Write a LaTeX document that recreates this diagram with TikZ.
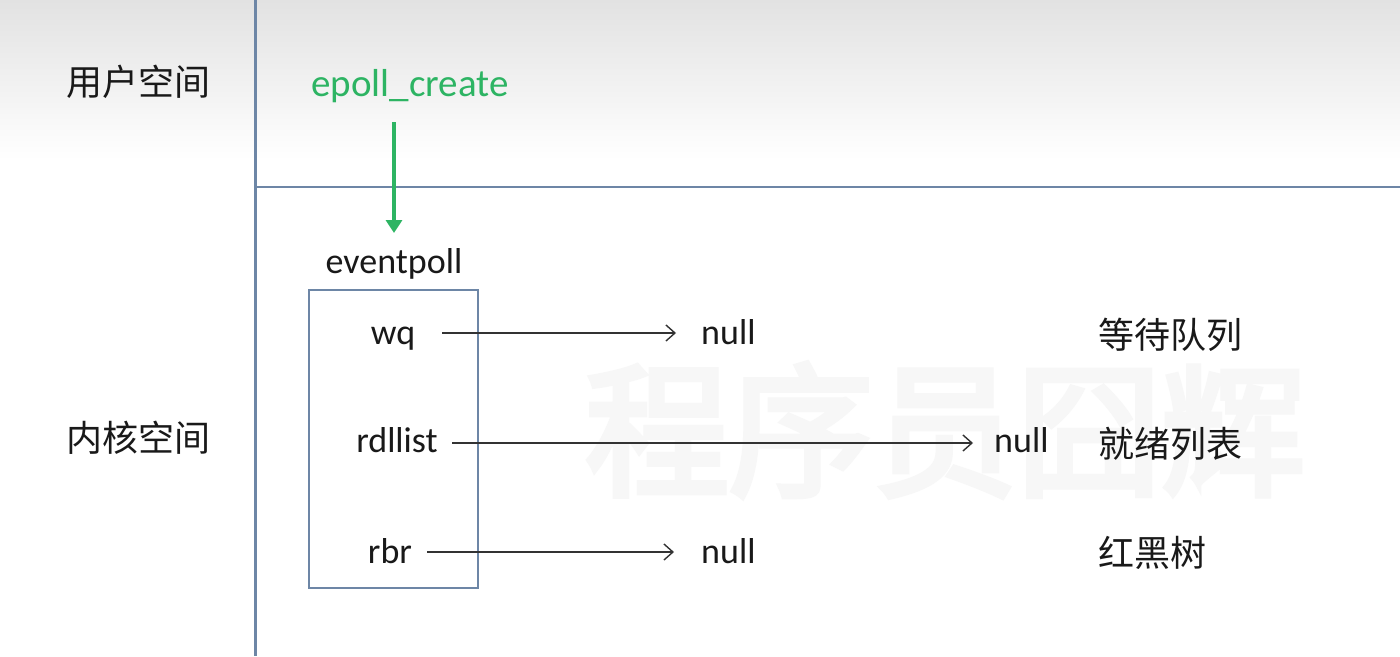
\documentclass[tikz,border=0pt]{standalone}
\usepackage{fontspec}
\setmainfont{Carlito}
\newfontfamily\cjk{Noto Sans CJK SC}
\newfontfamily\cjkbold[FakeBold=4]{Noto Sans CJK SC}
\usetikzlibrary{arrows.meta}
\definecolor{linecol}{HTML}{6D86A6}
\definecolor{greenc}{HTML}{2DB463}
\definecolor{wmark}{HTML}{F7F7F7}
\definecolor{topgray}{HTML}{E2E2E2}
\tikzset{
  lbl/.style={inner sep=0pt, font=\fontsize{36}{40}\selectfont, text=black!90},
  cn/.style={inner sep=0pt, font=\cjk\fontsize{36}{40}\selectfont, text=black!90},
  ptr/.style={draw=black!80, line width=1.4pt, -{Straight Barb[length=9pt,width=16pt,line width=1.4pt]}},
  sep/.style={draw=linecol, line width=3pt},
}
\begin{document}
\begin{tikzpicture}[x=1pt,y=-1pt]
\useasboundingbox (0,0) rectangle (1400,656);
\fill[white] (0,0) rectangle (1400,656);
\shade[top color=topgray, bottom color=white] (0,0) rectangle (1400,160);
% watermark
\node[inner sep=0pt, font=\cjkbold\fontsize{144}{150}\selectfont, text=wmark] (wm) at (945,430) {程序员囧辉};
% separators
\coordinate (vtop) at (255,0);
\coordinate (vbot) at (255,656);
\coordinate (hl) at (255,187);
\coordinate (hr) at (1400,187);
\draw[sep] (vtop) -- (vbot);
\draw[sep, line width=2.5pt] (hl) -- (hr);
% region labels
\node[cn] (user) at (138,82) {用户空间};
\node[cn] (kernel) at (138,438) {内核空间};
% epoll_create
\node[lbl, text=greenc, anchor=base, font=\fontsize{39}{44}\selectfont] (create) at (410,96) {epoll\_create};
\node[lbl, anchor=base] (ep) at (394,273) {eventpoll};
\coordinate (ctop) at (394,122);
\coordinate (cbot) at (394,233);
\draw[draw=greenc, line width=3.5pt, -{Triangle[length=13pt,width=16pt]}] (ctop) -- (cbot);
% box
\node[draw=linecol, line width=1.5pt, minimum width=169pt, minimum height=298pt, inner sep=0pt] (box) at (393.5,439) {};
% fields
\node[lbl, anchor=base] (wq) at (393,344) {wq};
\node[lbl, anchor=base] (rd) at (397,452) {rdllist};
\node[lbl, anchor=base] (rb) at (390,563) {rbr};
\node[lbl, anchor=base west] (n1) at (701,344) {null};
\node[lbl, anchor=base west] (n2) at (994,452) {null};
\node[lbl, anchor=base west] (n3) at (701,563) {null};
\coordinate (a1) at (442,333);
\coordinate (b1) at (676,333);
\coordinate (a2) at (452,443);
\coordinate (b2) at (973,443);
\coordinate (a3) at (427,552);
\coordinate (b3) at (674,552);
\draw[ptr] (a1) -- (b1);
\draw[ptr] (a2) -- (b2);
\draw[ptr] (a3) -- (b3);
% descriptions
\node[cn, anchor=west] (d1) at (1098,335) {等待队列};
\node[cn, anchor=west] (d2) at (1098,444) {就绪列表};
\node[cn, anchor=west] (d3) at (1098,553) {红黑树};
\end{tikzpicture}
\end{document}
